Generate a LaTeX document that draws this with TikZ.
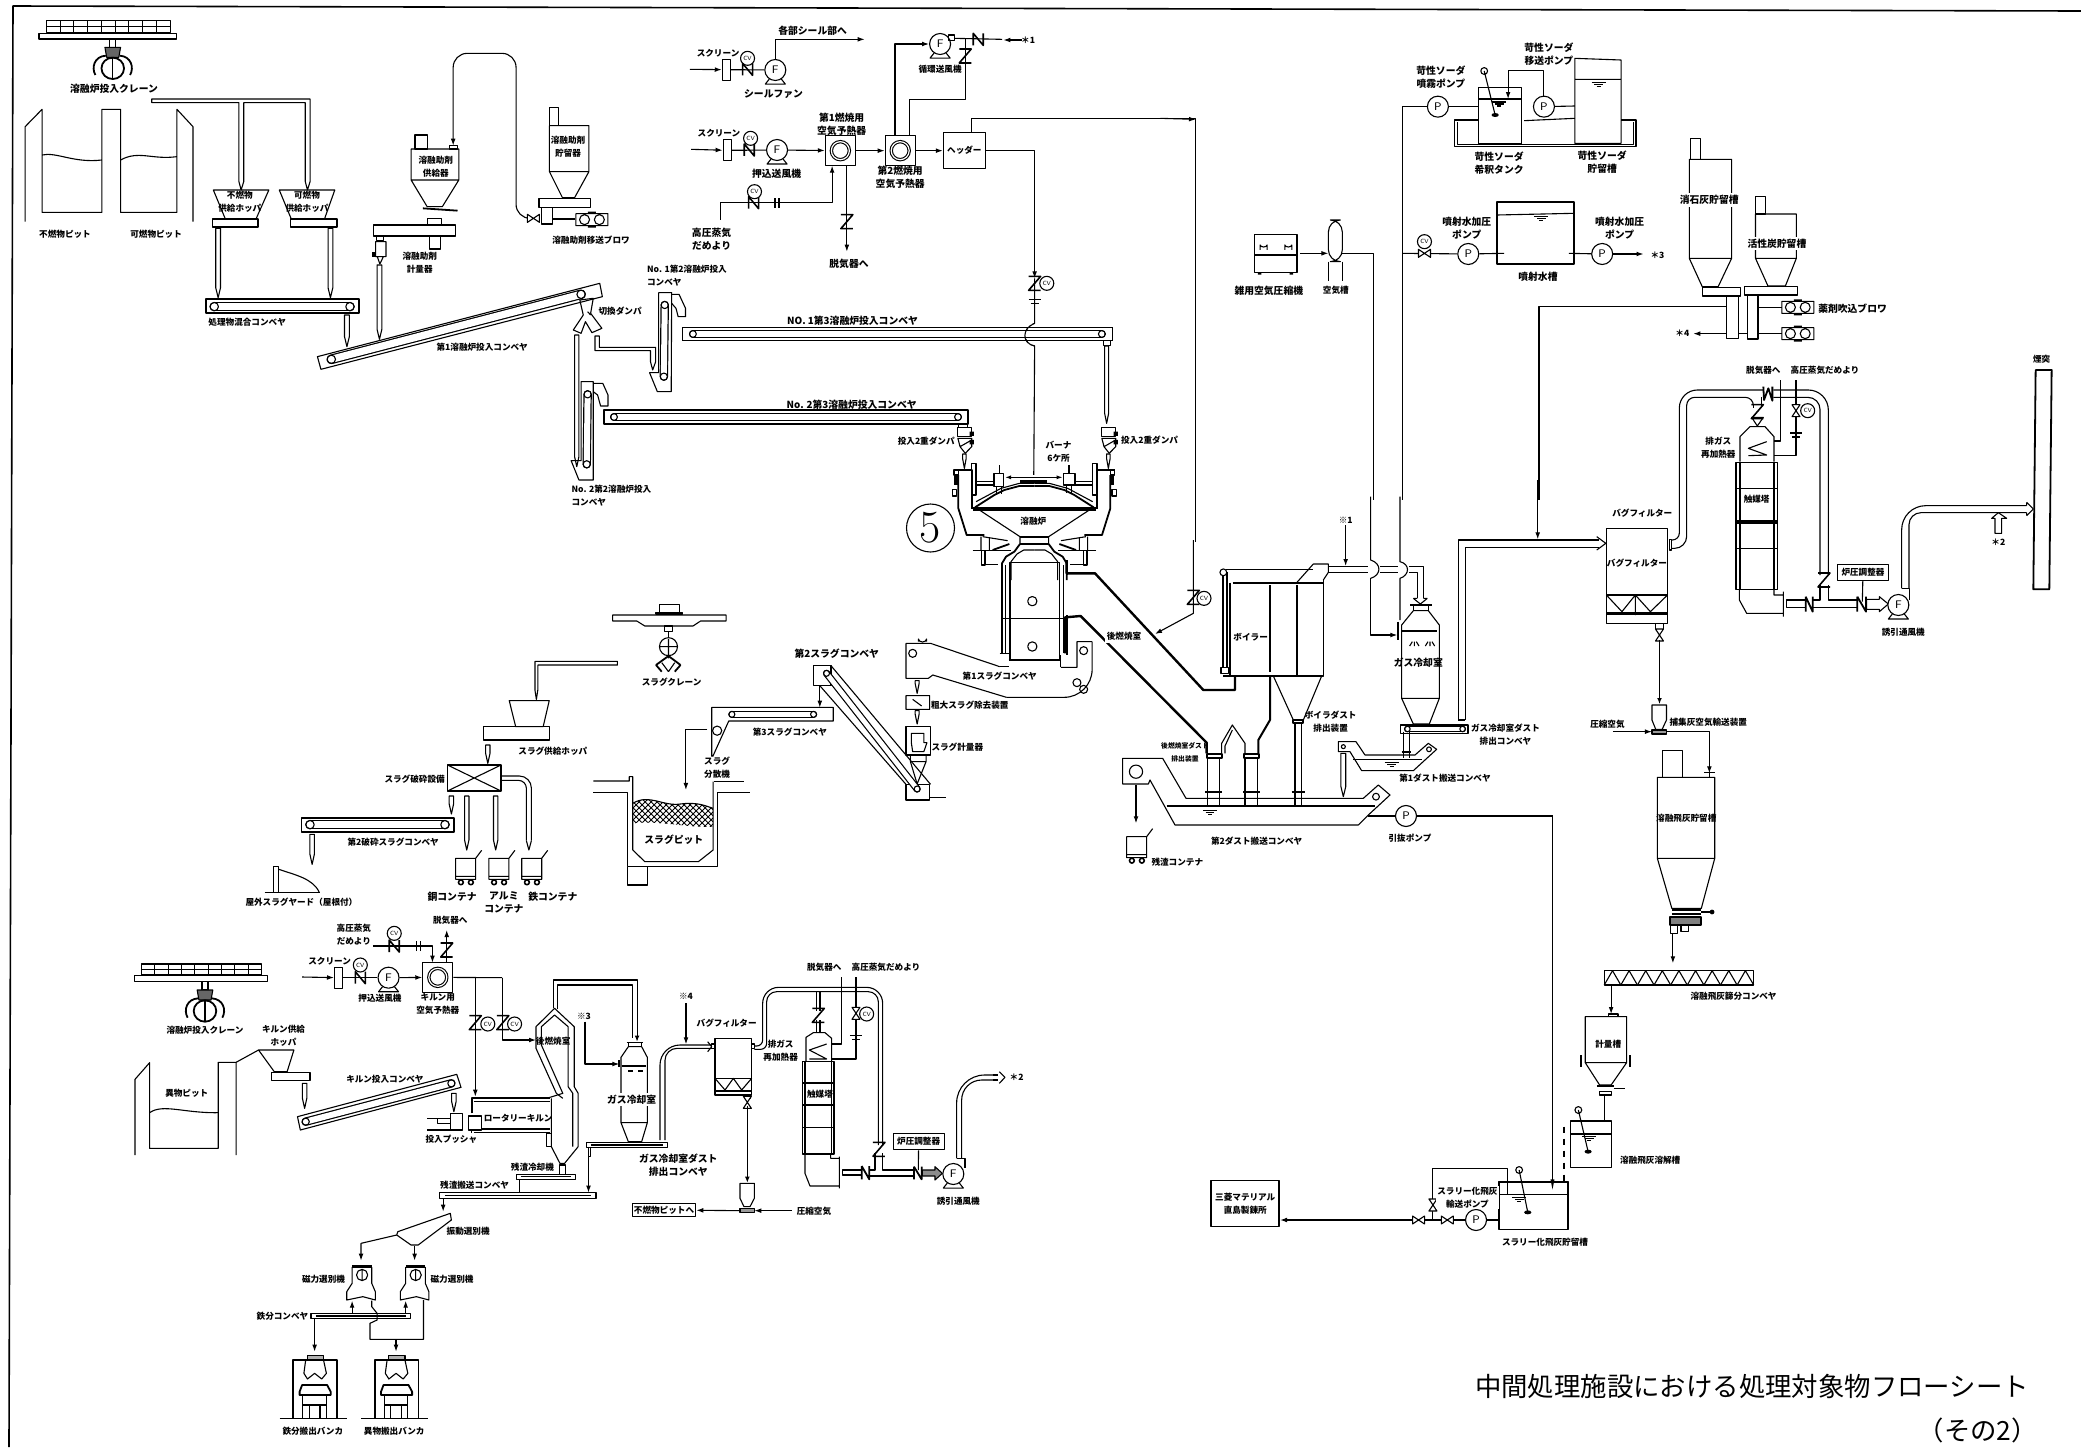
\documentclass[tikz,border=0pt]{standalone}
\usepackage{fontspec}
\newfontfamily\cjk{Noto Sans CJK JP}
\usetikzlibrary{arrows.meta,calc,patterns}
\tikzset{
  crop/.style n args={4}{shift={(#1*.5pt,-#2*.5pt)},x={.5pt/#3},y={-.5pt/#4}},
  lbl/.style={font=\cjk\bfseries\fontsize{4.3}{6.5}\selectfont,align=center,inner sep=0pt},
  lbw/.style={font=\cjk\bfseries\fontsize{4.9}{6.5}\selectfont,align=center,inner sep=0pt},
  pmp/.style={circle,draw,fill=white,inner sep=0pt,minimum size=10.5pt,font=\sffamily\fontsize{5.5}{6}\selectfont},
  ctl/.style={circle,draw,fill=white,inner sep=0pt,minimum size=7pt,font=\sffamily\fontsize{3}{3}\selectfont},
  hxb/.style={rectangle,draw,inner sep=0pt,minimum width=15pt,minimum height=15pt},
  scrn/.style={rectangle,draw,inner sep=0pt,minimum width=4pt,minimum height=10.5pt},
  ring/.style={circle,draw,double,inner sep=0pt,minimum size=9pt},
  thk/.style={line width=.9pt},
  flow/.style={-{Latex[length=3.5pt,width=2.4pt]}},
  grab/.pic={
    \begin{scope}[x=.2168pt,y=-.1667pt]
      \draw (-7,0) rectangle (7,25);
      \draw[fill=black!60] (-18,25)--(18,25)--(14,55)--(-14,55)--cycle;
      \draw[line width=.9pt] (0,88) ellipse [x radius=26,y radius=32];
      \draw (0,56)--(0,120);
      \foreach \s in {1,-1} {\draw[line width=.9pt] (\s*16,50) .. controls (\s*42,52) and (\s*50,85) .. (\s*40,108);}
    \end{scope}}
}
\newcommand\drp[4][1.2pt]{\draw[fill=white] ($(#2,#3)+(-#1,0pt)$) -- ($(#2,#4)+(-#1,5pt)$) -- (#2,#4) -- ($(#2,#4)+(#1,5pt)$) -- ($(#2,#3)+(#1,0pt)$) -- cycle;}
\newcommand\belt[3][2.1pt]{
  \draw[line width=2*#1+.6pt,line cap=round] (#2)--(#3);
  \draw[white,line width=2*#1-.6pt,line cap=round] (#2)--(#3);
  \draw (#2) circle[radius=#1] (#3) circle[radius=#1];}
\newcommand\gv[1]{\draw[fill=white] (#1) +(-3pt,2pt) -- +(3pt,-2pt) -- +(3pt,2pt) -- +(-3pt,-2pt) -- cycle;}
\newcommand\gvv[1]{\draw[fill=white] (#1) +(-2pt,3pt) -- +(2pt,3pt) -- +(-2pt,-3pt) -- +(2pt,-3pt) -- cycle;}
\newcommand\nchk[1]{\draw[line width=.8pt] (#1) +(-2.5pt,-3pt) -- +(-2.5pt,3pt) -- +(2.5pt,-3pt) -- +(2.5pt,3pt);}
\newcommand\zdm[1]{\draw[line width=.8pt] (#1) +(-3pt,3.5pt) -- +(3pt,3.5pt) -- +(-3pt,-3.5pt) -- +(3pt,-3.5pt);}
\newcommand\orf[1]{\draw[fill=white] (#1) +(-1pt,-2.5pt) -- +(-1pt,2.5pt) +(1pt,-2.5pt) -- +(1pt,2.5pt);}
\newcommand\orfv[1]{\draw (#1) +(-3pt,1pt) -- +(3pt,1pt) +(-2pt,-1pt) -- +(2pt,-1pt);}
\newcommand\wmk[1]{\draw (#1) +(-3.5pt,0pt) -- +(3.5pt,0pt) +(-2.2pt,-1pt) -- +(2.2pt,-1pt) +(-1pt,-2pt) -- +(1pt,-2pt);}
\newcommand\agit[2]{\draw (#1) circle[radius=1.7pt] -- (#2); \fill (#2) ellipse[x radius=1.8pt,y radius=1pt];}
\newcommand\cont[1]{\draw (#1) rectangle +(10pt,-10.5pt) (#1) +(0pt,-9pt) -- +(10pt,-9pt) (#1) +(10pt,0pt) -- +(13pt,4pt);
  \draw[line width=.8pt] (#1) +(2.6pt,-12pt) circle[radius=1.2pt] +(7.6pt,-12pt) circle[radius=1.2pt];}
\newcommand\blw[1]{\draw (#1) +(-8pt,-3pt) rectangle +(8pt,3pt) +(-3.7pt,0pt) circle[radius=2.5pt] +(3.7pt,0pt) circle[radius=2.5pt];
  \fill (#1) +(-2pt,3pt) rectangle +(2pt,4pt) +(-2pt,-3pt) rectangle +(2pt,-4pt);}
\newcommand\fanb[1]{\draw (#1.south) ++(-3pt,1pt) -- ++(-2pt,-2.5pt) -- ++(10pt,0pt) -- ++(-2pt,2.5pt);}
\begin{document}
\begin{tikzpicture}[x=.5pt,y=-.5pt,line width=.55pt,line join=round]
  \useasboundingbox (0,0) rectangle (2081,1447);
  \draw[line width=.8pt] (9,1447) -- (13,6) -- (2081,11);

  % top left: pits, hoppers, first conveyor
  \begin{scope}[crop={0}{0}{2.306}{3}]
    \foreach \i in {0,...,8} {\draw (107+\i*31.7,62) rectangle ++(31.7,17.5) ++(-31.7,0) rectangle ++(31.7,17.5);}
    \draw (90,100) rectangle (407,117);
    \pic at (260,117) {grab};
    \node[lbw] (craneA) at (263,265) {溶融炉投入クレーン};
    \draw (58,665)--(58,380)--(97,328)--(97,637)--(235,637)--(235,328)--(278,328)--(278,637)--(408,637)--(408,328)--(445,380)--(445,665);
    \draw (97,465) .. controls (130,455) and (170,490) .. (235,480);
    \draw (278,480) .. controls (320,450) and (350,480) .. (408,470);
    \node[lbl] (pitA) at (150,703) {不燃物ピット};
    \node[lbl] (pitB) at (360,703) {可燃物ピット};
    \draw (350,297)--(715,297)--(715,545)--(709,570)--(704,545)--(704,308)--(562,308)--(562,545)--(556,570)--(551,545)--(551,308)--(350,308)--cycle;
    \draw (492,570)--(620,570)--(590,658)--(520,658)--cycle;
    \draw (644,570)--(772,570)--(748,658)--(672,658)--cycle;
    \draw[thk] (490,658) rectangle (595,680) (670,658) rectangle (777,680);
    \node[lbl] (hopA) at (553,604) {不燃物\\供給ホッパ};
    \node[lbl] (hopB) at (708,604) {可燃物\\供給ホッパ};
    \drp{503}{685}{893}
    \drp{762}{685}{893}
    \draw[thk] (475,898) rectangle (827,940);
    \belt{494,920}{807,920}
    \node[lbl] (convMix) at (570,968) {処理物混合コンベヤ};
    \drp{800}{945}{1040}
    \draw (732,1070)--(1383,850)--(1389,890)--(740,1108)--cycle;
    \belt{764,1078}{1340,883}
    \node[lbl] (convA) at (1112,1043) {第1溶融炉投入コンベヤ};
    % flux feeder
    \draw (957,405) rectangle (985,447);
    \draw (1037,437) rectangle (1055,447);
    \draw (948,447)--(1058,447)--(1058,540)--(1020,620)--(985,620)--(948,540)--cycle (948,540)--(1058,540);
    \draw[thk] (975,625)--(1055,632);
    \draw (985,655) rectangle (1018,675);
    \draw (862,675) rectangle (1050,708);
    \draw (990,708) rectangle (1015,747);
    \draw (868,708) rectangle (885,722);
    \draw (866,725) rectangle (890,770) (870,770) -- (876,792) -- (884,770);
    \fill (858,755) rectangle (866,772);
    \drp{875}{795}{1018}
    \node[lbl] (feedF) at (1005,500) {溶融助剤\\供給器};
    \node[lbl] (weighF) at (968,787) {溶融助剤\\計量器};
    \coordinate (flxT) at (1045,437);
    \coordinate (flxV) at (1222,655);
    \draw[flow,rounded corners=7pt] (flxV) -| (1190,160) -| (flxT);
    \gv{1230,655}
    \draw (1267,323) rectangle (1287,377);
    \draw (1267,377)--(1358,377)--(1358,515)--(1325,593)--(1297,593)--(1267,515)--cycle (1267,515)--(1358,515);
    \draw (1243,595) rectangle (1362,622);
    \draw (1248,622) rectangle (1275,672);
    \blw{1365,659}
    \draw (1275,657)--(1327,657);
    \node[lbl] (storF) at (1310,440) {溶融助剤\\貯留器};
    \node[lbl] (blwF) at (1363,722) {溶融助剤移送ブロワ};
    % switching damper
    \draw (1337,900)--(1368,895)--(1362,940)--(1388,985)--(1365,998)--(1350,965)--(1340,1000)--(1322,990)--(1345,945)--cycle;
    \draw (1355,935)--(1362,945);
    \node[lbl] (dampS) at (1430,935) {切換ダンパ};
    \draw (1325,1005)--(1325,1370)--(1330,1400)--(1335,1370)--(1335,1005)--cycle;
    \draw (1372,1008)--(1372,1052)--(1500,1052)--(1500,1085)--(1505,1110)--(1512,1085)--(1512,1042)--(1382,1042)--(1382,1008)--cycle;
    \draw (1340,1145)--(1368,1145)--(1368,1440)--(1335,1440)--(1317,1382)--(1340,1382)--cycle;
    \belt[1.8pt]{1355,1183}{1353,1393}
    \draw (1368,1150)--(1390,1150)--(1402,1185)--(1402,1218)--(1385,1218)--(1378,1185)--(1368,1175);
  \end{scope}
  \node[lbl,anchor=west,align=left] (convN2) at (571,495.5) {No. 2第2溶融炉投入\\コンベヤ};
  \draw (604,410) rectangle (968,424);
  \belt[1.7pt]{614,417}{958,417}

  % top middle: fans, preheaters, header
  \begin{scope}[crop={640}{0}{2.306}{3}]
    \node[scrn] (scrA) at (199,209) {};
    \node[ctl] (cvA) at (248,175) {CV};
    \node[pmp] (fanA) at (312,210) {F};
    \fanb{fanA}
    \coordinate (inA) at (115,208);
    \coordinate (outA) at (518,118);
    \draw[flow] (inA) -- (scrA);
    \draw (scrA) -- (fanA);
    \nchk{248,208}
    \draw[flow] (fanA) |- (outA);
    \node[lbw] (lbSeal) at (398,92) {各部シール部へ};
    \node[lbl] (lbScrA) at (180,160) {スクリーン};
    \node[lbw] (lbFanA) at (308,283) {シールファン};

    \node[scrn] (scrB) at (201,451) {};
    \node[ctl] (cvB) at (255,415) {CV};
    \node[pmp] (fanB) at (316,450) {F};
    \fanb{fanB}
    \node[hxb] (hxA) at (462,452) {};
    \node[ring] at (hxA) {};
    \node[hxb] (hxB) at (600,452) {};
    \node[ring] at (hxB) {};
    \node[rectangle,draw,inner sep=0pt,minimum width=21pt,minimum height=18pt] (hdr) at (748,452) {};
    \node[lbl] at (hdr) {ヘッダー};
    \coordinate (inB) at (118,448);
    \draw[flow] (inB) -- (scrB);
    \draw (scrB) -- (fanB);
    \nchk{252,450}
    \draw[flow] (fanB) -- (hxA);
    \draw[flow] (hxA) -- (hxB);
    \draw[flow] (hxB) -- (hdr);
    \node[lbl] (lbScrB) at (182,400) {スクリーン};
    \node[lbw] (lbFanB) at (315,520) {押込送風機};
    \node[lbw] (lbHxA) at (465,372) {第1燃焼用\\空気予熱器};
    \node[lbw] (lbHxB) at (600,532) {第2燃焼用\\空気予熱器};

    \node[pmp] (fanC) at (692,132) {F};
    \fanb{fanC}
    \draw (712,105) rectangle (726,122);
    \draw[flow] (588,406) |- (fanC);
    \draw (726,115) -- (835,118);
    \nchk{780,118}
    \draw[flow] (880,120) -- (838,120);
    \node[lbl] (lbS1) at (895,120) {＊1};
    \draw (750,115) -- (750,298) -| (622,406);
    \zdm{750,168}
    \node[lbl] (lbFanC) at (692,208) {循環送風機};

    \coordinate (stmA) at (185,660);
    \draw[flow] (stmA) |- (443,608) -- (443,497);
    \nchk{262,608}
    \node[ctl] (cvC) at (264,575) {CV};
    \orf{316,608}
    \node[lbw] (lbStmA) at (165,718) {高圧蒸気\\だめより};
    \draw[flow] (477,497) -- (477,755);
    \zdm{477,665}
    \node[lbw] (lbDea) at (482,792) {脱気器へ};

    \draw[flow] (797,452) -- (910,452) -- (910,835);
    \draw (910,835) -- (910,970) .. controls (880,985) and (880,1030) .. (910,1038) -- (908,1425);
    \zdm{910,850}
    \node[ctl] (cvD) at (938,850) {CV};
    \orfv{910,905}
    \draw (765,397) -- (765,355) -- (1280,355) -- (1280,1625);
    \draw[flow] (1200,355) -- (1282,358);

    % compressor
    \draw (1416,703) rectangle (1515,818) (1416,765) -- (1515,765);
    \draw (1430,750) -- (1430,735) arc (180:0:8 and 6) -- (1446,750) (1487,750) -- (1487,735) arc (180:0:8 and 6) -- (1503,750);
    \fill (1425,818) rectangle (1433,824) (1498,818) rectangle (1506,824);
    \node[lbw] (lbComp) at (1450,873) {雑用空気圧縮機};

    \draw (97,982) rectangle (1090,1022);
    \belt[1.7pt]{122,1002}{1065,1002}
    \draw[fill=white,draw=white] (895,975) rectangle (925,1032);
    \draw (97,982) -- (1090,982) (97,1022) -- (1090,1022) (135,992) -- (1065,992) (135,1012) -- (1065,1012);
    \draw (910,970) .. controls (880,985) and (880,1030) .. (910,1038);
    \draw (1068,1022) rectangle (1085,1036);
    \drp[1pt]{1076}{1038}{1270}
    \node[lbw] (lbNoA) at (490,963) {NO. 1第3溶融炉投入コンベヤ};
    \node[lbw] (lbNoB) at (488,1215) {No. 2第3溶融炉投入コンベヤ};
    \node[lbl,anchor=west,align=left] (lbNoC) at (15,828) {No. 1第2溶融炉投入\\コンベヤ};
    \foreach \dx in {0,332} {
      \begin{scope}[shift={(\dx,0)}]
        \draw (733,1282) rectangle (765,1310);
        \draw (733,1315)--(765,1315)--(765,1340)--(750,1360)--(738,1340)--cycle (738,1340)--(765,1320);
        \fill (760,1295) rectangle (770,1308) (760,1320) rectangle (770,1333);
        \drp[.9pt]{748}{1362}{1405}
      \end{scope}}
    \draw (735,1272) rectangle (755,1282);
    \node[lbl] (lbDpA) at (660,1325) {投入2重ダンパ};
    \node[lbl] (lbDpB) at (1175,1320) {投入2重ダンパ};
    \node[lbl] (lbBur) at (965,1355) {バーナ\\6ケ所};
    % No.1 second conveyor
    \draw (43,878)--(73,878)--(72,1175)--(40,1175)--(22,1118)--(43,1118)--cycle;
    \belt[1.8pt]{57,915}{55,1130}
    \draw (73,883)--(90,883)--(105,925)--(105,950)--(88,950)--(83,925)--(73,910);
  \end{scope}

  % top right: soda tanks, silos
  \begin{scope}[crop={1300}{0}{2.008}{3}]
    \node[pmp] (pmpA) at (277,320) {P};
    \node[pmp] (pmpB) at (490,320) {P};
    \draw (205,1500) -- (205,320) -- (pmpA) -- (358,320);
    \draw (358,262) rectangle (445,432) (358,297) -- (445,297);
    \wmk{400,306}
    \agit{370,213}{392,345}
    \draw[flow] (pmpB) |- (418,212) -- (418,297);
    \draw (pmpB) -- (552,318);
    \draw (450,362) -- (552,355);
    \draw (552,175) -- (645,180) -- (645,430) -- (552,430) -- cycle (552,238) -- (645,238);
    \wmk{600,248}
    \draw (358,360) -- (310,360) -- (310,440) -- (675,440) -- (675,360) -- (645,360);
    \draw (316,366) -- (316,433) -- (669,433) -- (669,366);
    \node[lbw] (lbSoA) at (283,232) {苛性ソーダ\\噴霧ポンプ};
    \node[lbw] (lbSoB) at (500,162) {苛性ソーダ\\移送ポンプ};
    \node[lbw] (lbSoC) at (400,490) {苛性ソーダ\\希釈タンク};
    \node[lbw] (lbSoD) at (607,487) {苛性ソーダ\\貯留槽};

    % injection water
    \node[pmp] (pmpC) at (338,762) {P};
    \node[pmp] (pmpD) at (607,762) {P};
    \coordinate (outD) at (690,762);
    \draw (205,760) -- (pmpC) -- (410,760);
    \gv{250,760}
    \node[ctl] (cvE) at (250,725) {CV};
    \draw[thk] (396,605) rectangle (550,792);
    \draw (396,645) -- (550,640);
    \wmk{485,650}
    \draw (540,760) -- (pmpD);
    \draw[flow] (pmpD) -- (outD);
    \node[lbl] (lbS3) at (718,765) {＊3};
    \node[lbw] (lbPmC) at (335,683) {噴射水加圧\\ポンプ};
    \node[lbw] (lbPmD) at (642,683) {噴射水加圧\\ポンプ};
    \node[lbw] (lbWat) at (478,830) {噴射水槽};

    % air tank
    \draw[fill=white,rounded corners=6pt] (57,660) rectangle (85,785);
    \draw (57,785) -- (57,842) (85,785) -- (85,842);
    \draw[flow] (0,760) -- (57,760);
    \draw (85,760) -- (147,760) -- (147,1500);
    \node[lbl] (lbTnk) at (72,872) {空気槽};

    % silos
    \draw (785,415) rectangle (805,478);
    \draw (782,478) -- (867,478) -- (867,775) -- (840,860) -- (808,860) -- (782,775) -- cycle (782,775) -- (867,775);
    \draw (808,862) rectangle (885,888);
    \draw (857,888) rectangle (880,1015);
    \node[lbw,fill=white,inner sep=1pt] (lbSiA) at (822,600) {消石灰貯留槽};
    \draw (915,590) rectangle (935,642);
    \draw (915,642) -- (997,642) -- (997,775) -- (975,858) -- (940,858) -- (915,775) -- cycle (915,775) -- (997,775);
    \draw (893,860) rectangle (1000,885);
    \draw (898,885) rectangle (920,1017);
    \node[lbw,fill=white,inner sep=1pt] (lbSiB) at (958,730) {活性炭貯留槽};
    \blw{1000,922}
    \blw{1000,1001}
    \draw (920,922) -- (968,922) (920,1001) -- (968,1001) (880,1001) -- (898,1001);
    \draw[flow] (857,1001) -- (790,1001);
    \node[lbl] (lbS4) at (768,1000) {＊4};
    \node[lbw] (lbBlw) at (1110,925) {薬剤吹込ブロワ};
    \draw (857,920) -- (480,920) -- (480,1500);
  \end{scope}

  % furnace, mirrored about its axis
  \begin{scope}[crop={920}{420}{3}{3}]
    \foreach \s in {1,-1} {
      \begin{scope}[shift={(343,0)},xscale=\s]
        \draw (-188,130) rectangle (-175,225);
        \draw[thk] (-241,150) -- (-188,150) -- (-188,268);
        \draw (-241,150) rectangle (-228,165);
        \fill (-240,165) rectangle (-228,195);
        \draw (-246,208) rectangle (-233,228);
        \draw[thk] (-228,165) -- (-228,265) -- (-203,345) -- (-150,345);
        \draw (-175,185) -- (-120,185) (-175,195) -- (-120,195);
        \draw[thk] (-178,262) -- (-120,225) -- (-90,210) -- (-45,198) -- (0,198);
        \draw (-175,245) -- (-100,205) -- (-45,190) -- (0,190);
        \draw (-168,268) -- (-43,350) -- (-43,372);
        \draw[thk] (-43,350) -- (0,350) (-43,372) -- (0,372);
        \draw (-155,350) -- (-80,362) (-160,350) -- (-160,390) (-135,355) -- (-135,390);
        \draw[thk] (-125,390) -- (-75,372);
        \draw (-158,392) rectangle (-148,435);
        \draw (-185,392) -- (-70,392) (-160,433) -- (-108,433);
        \draw[thk] (-43,372) -- (-60,395) -- (-85,410) -- (-97,430) -- (-97,480);
        \draw (-32,390) -- (0,390) (-32,390) -- (-52,402) -- (-70,425) -- (-70,480);
      \end{scope}}
    \draw[thk] (160,265) -- (527,265);
    \draw (158,270) -- (527,270);
    \draw (222,160) rectangle (250,200) (238,135) -- (238,160) (230,200) -- (230,225) (245,200) -- (245,222);
    \draw (430,160) rectangle (465,195) (440,195) -- (440,220) (455,195) -- (455,220);
    \fill (444,135) rectangle (450,160);
    \draw[{Latex[length=3pt,width=2pt]}-{Latex[length=3pt,width=2pt]}] (255,172) -- (428,172);
    \fill (300,180) rectangle (380,190);
    \node[lbl] (lbFur) at (340,305) {溶融炉};
  \end{scope}
  \node[circle,draw,inner sep=0pt,minimum size=24pt,font=\rmfamily\fontsize{23}{23}\selectfont] (numF) at (930.5,528) {5};

  % slag line
  \begin{scope}[crop={560}{440}{2.24}{3}]
    \draw (1008,368) rectangle (1118,660);
    \draw[thk] (990,375) -- (990,640) (1135,375) -- (1135,405) (1135,525) -- (1135,645);
    \draw (998,375) -- (998,640) (1127,375) -- (1127,640);
    \draw (985,640) -- (1005,640) (990,535) -- (1135,535);
    \draw (1005,660) -- (1122,660);
    \draw[rounded corners=2pt] (1048,470) rectangle (1068,497) (1048,606) rectangle (1068,633);
    \draw (775,610) -- (830,610) -- (985,680) (1122,682) -- (1158,682) -- (1158,605) -- (1192,605);
    \draw[rounded corners=14pt] (1192,605) -- (1192,772) -- (1000,772);
    \draw (1000,772) -- (835,705) -- (825,715) -- (775,715) -- (775,610);
    \draw (1122,645) -- (1122,682);
    \draw (985,680) -- (1005,680);
    \draw (790,640) circle[radius=2pt] (1173,632) circle[radius=2pt] (1158,728) circle[radius=2pt] (1173,748) circle[radius=2pt];
    \draw (803,605) -- (803,597) arc (180:0:9 and 9) -- (821,605);
    \node[lbl] (lbSlgA) at (985,708) {第1スラグコンベヤ};
    \drp[1pt]{800}{722}{760}
    \draw (775,767) rectangle (828,808) (790,778) -- (810,798);
    \node[lbl] (lbSlgB) at (918,795) {粗大スラグ除去装置};
    \drp[1pt]{800}{812}{852}
    \draw (775,860) rectangle (830,945);
    \draw (787,880) -- (815,880) -- (815,908) -- (822,908) -- (815,935) -- (790,935) -- (787,908) -- cycle;
    \node[lbl] (lbSlgC) at (890,920) {スラグ計量器};
    \draw (785,945) -- (785,965) -- (800,1032) -- (820,965) -- (820,945) (785,965) -- (820,965);
    \draw (775,1033) rectangle (828,1080) (828,1072) -- (865,1072);
    \draw (567,677) rectangle (607,737);
    \draw (607,677) -- (830,1033) (582,737) -- (775,1033);
    \belt[1.5pt]{597,700}{800,1047}
    \node[lbw] (lbSlgD) at (620,642) {第2スラグコンベヤ};
    \draw[flow] (582,737) -- (582,803);
    \draw (340,950) -- (340,802) -- (612,802) -- (612,843) -- (378,843) -- (342,950);
    \belt[1.5pt]{385,823}{568,823}
    \draw (352,872) circle[radius=2.3pt];
    \node[lbl] (lbSlgE) at (515,875) {第3スラグコンベヤ};
    \draw[flow] (330,868) -- (282,868) -- (282,1050);
    \node[lbl] (lbSlgF) at (352,982) {スラグ\\分散機};
    \draw (345,1025) -- (412,1025);
    \fill[white] (163,1085) rectangle (343,1160);
    \path[pattern=crosshatch] (163,1090) .. controls (200,1060) and (230,1100) .. (270,1092) .. controls (310,1085) and (330,1100) .. (343,1105) -- (343,1160) .. controls (290,1165) and (220,1140) .. (163,1150) -- cycle;
    \draw (163,1090) .. controls (200,1060) and (230,1100) .. (270,1092) .. controls (310,1085) and (330,1100) .. (343,1105);
    \draw (75,1023) -- (155,1023) -- (155,1010) -- (163,1010) -- (163,1230) -- (190,1265) -- (310,1265) -- (343,1230) -- (343,1025);
    \draw (75,1058) -- (152,1058) -- (152,1280) -- (352,1280) -- (352,1058) -- (425,1058);
    \draw (152,1280) -- (152,1335) -- (195,1335) -- (195,1280);
    \node[lbw] (lbPit) at (255,1200) {スラグピット};
    % slag crane
    \draw (118,525) -- (372,525) -- (372,543) -- (315,543) -- (298,558) -- (190,558) -- (172,543) -- (118,543) -- cycle;
    \draw (222,493) rectangle (268,518) (215,518) rectangle (275,522);
    \draw (235,558) rectangle (252,575) (243,575) -- (243,590);
    \draw (243,620) circle[radius=4.5pt] (225,620) -- (261,620) (243,597) -- (243,655);
    \draw[thk] (215,675) -- (243,648) -- (270,675) (228,695) -- (215,675) (257,695) -- (270,675);
    \draw (228,668) -- (243,695) (257,668) -- (243,695);
    \node[lbl] (lbCrnS) at (250,727) {スラグクレーン};
  \end{scope}

  % slag crushing
  \begin{scope}[crop={220}{600}{2.8}{3}]
    \draw (1113,184) -- (882,184) -- (882,270) -- (886,298) -- (890,270) -- (890,195) -- (1113,195) -- cycle;
    \draw (810,302) -- (922,302) -- (905,380) -- (828,380) -- cycle;
    \draw (737,380) rectangle (923,420);
    \node[lbl] (lbSlgH) at (932,453) {スラグ供給ホッパ};
    \drp[1.1pt]{750}{435}{490}
    \draw[thk] (637,495) rectangle (787,573);
    \draw (637,495) -- (787,573) (637,573) -- (787,495);
    \node[lbl] (lbCrsh) at (545,537) {スラグ破砕設備};
    \draw[rounded corners=6pt] (787,528) -- (872,528) -- (872,722);
    \draw[rounded corners=4pt] (787,541) -- (858,541) -- (858,722);
    \draw (858,722) -- (865,750) -- (872,722);
    \drp[1.1pt]{648}{588}{642}
    \drp[1.1pt]{691}{588}{750}
    \drp[1.1pt]{772}{588}{750}
    \draw[thk] (228,653) rectangle (655,695);
    \belt{252,674}{630,674}
    \node[lbl] (lbCnv) at (485,725) {第2破砕スラグコンベヤ};
    \drp[1.1pt]{258}{703}{793}
    \draw (125,877) -- (280,877) (150,877) -- (150,800) -- (165,800) -- (165,877);
    \draw (165,808) .. controls (210,825) and (260,835) .. (278,877);
    \node[lbl] (lbYrd) at (228,907) {屋外スラグヤード（屋根付）};
    \cont{660,775}
    \cont{753,775}
    \cont{845,775}
    \node[lbw] (lbCnA) at (650,890) {銅コンテナ};
    \node[lbw] (lbCnB) at (795,907) {アルミ\\コンテナ};
    \node[lbw] (lbCnC) at (932,890) {鉄コンテナ};
  \end{scope}

  % kiln line
  \begin{scope}[crop={120}{930}{2.8}{3}]
    \foreach \i in {0,...,8} {\draw (60+\i*37.4,102) rectangle ++(37.4,16.5) ++(-37.4,0) rectangle ++(37.4,16.5);}
    \draw (40,137) rectangle (413,155);
    \pic at (238,155) {grab};
    \node[lbl] (craneB) at (238,302) {溶融炉投入クレーン};
    \draw (42,675) -- (42,448) -- (83,398) -- (83,655) -- (275,655) -- (275,397) -- (325,397) -- (325,675);
    \draw (83,548) .. controls (120,520) and (180,550) .. (275,548);
    \node[lbl] (lbPitC) at (187,490) {異物ピット};
    \draw (325,397) -- (388,360);
    \draw (388,360) -- (487,360) -- (468,425) -- (432,425) -- cycle;
    \draw (423,427) rectangle (532,452);
    \node[lbl] (lbHopK) at (458,318) {キルン供給\\ホッパ};
    \drp[1.1pt]{517}{460}{535}
    \draw (497,560) -- (943,433) -- (955,472) -- (505,600) -- cycle;
    \belt[1.8pt]{520,575}{928,460}
    \node[lbl] (lbCnvK) at (742,448) {キルン投入コンベヤ};
    \drp[1.1pt]{935}{490}{545}
    \draw (925,550) rectangle (960,600) (860,565) -- (925,565) (860,600) -- (945,600);
    \draw (890,565) rectangle (925,580);
    \node[lbl] (lbPsh) at (928,628) {投入プッシャ};
    \draw[thk] (985,550) -- (985,505) -- (1205,505) (985,598) -- (1205,598);
    \draw (990,515) -- (1205,515) (990,608) -- (1205,608) (985,598) -- (985,608);
    \draw[fill=white] (975,558) rectangle (1012,600);
    \node[lbl] (lbKln) at (1115,565) {ロータリーキルン};
    \node[scrn] (scrK) at (612,143) {};
    \node[ctl] (cvK) at (673,105) {CV};
    \node[pmp] (fanK) at (752,143) {F};
    \fanb{fanK}
    \node[hxb] (hxK) at (890,142) {};
    \node[ring] at (hxK) {};
    \coordinate (inK) at (510,141);
    \draw[flow] (inK) -- (scrK);
    \draw (scrK) -- (fanK);
    \nchk{673,143}
    \draw[flow] (fanK) -- (hxK);
    \draw (hxK) -- (1070,143);
    \draw[flow] (995,143) -- (995,500);
    \draw[flow] (1070,143) |- (1165,330);
    \zdm{995,278}
    \zdm{1072,278}
    \node[ctl] (cvL) at (1030,282) {CV};
    \node[ctl] (cvM) at (1105,282) {CV};
    \node[lbl] (lbScrK) at (587,93) {スクリーン};
    \node[lbl] (lbFanK) at (728,205) {押込送風機};
    \node[lbl] (lbHxK) at (890,222) {キルン用\\空気予熱器};
    \draw[flow] (708,48) -- (875,48) -- (875,98);
    \nchk{768,48}
    \node[ctl] (cvN) at (768,10) {CV};
    \orf{835,48}
    \draw[flow] (915,98) -- (915,0);
    \zdm{915,60}
    \node[lbl] (lbStmK) at (655,15) {高圧蒸気\\だめより};
    \node[lbl] (lbDeaK) at (925,-30) {脱気器へ};
    % afterburner
    \draw (1240,505) -- (1222,490) -- (1165,355) -- (1165,290) -- (1217,235) -- (1272,290) -- (1272,470) -- (1283,490) -- (1283,650) -- (1245,700) -- (1232,700) -- (1208,650) -- (1208,505);
    \draw (1195,505) -- (1240,490) -- (1180,345) -- (1180,290) -- (1217,255) -- (1255,290) -- (1255,470) -- (1268,490) -- (1268,650);
    \draw (1195,610) rectangle (1208,650);
    \node[lbl] (lbAbK) at (1213,333) {後燃焼室};
    \draw[-{Latex[length=3pt,width=2.4pt]}] (1213,235) -- (1213,150) -- (1448,150) -- (1448,335);
    \draw (1225,238) -- (1225,165) -- (1436,165) -- (1436,325);
    \node[lbl] (lbCoolK) at (1155,710) {残渣冷却機};
    \draw (1232,705) rectangle (1248,733);
    \draw (1110,733) rectangle (1275,748) (1122,740.5) -- (1263,740.5);
    \node[lbl] (lbCnvR) at (993,765) {残渣搬送コンベヤ};
    \draw (1120,748) -- (1120,788);
    \draw (895,788) rectangle (1333,805);
    \draw[thk] (910,796.5) -- (1318,796.5);
    \draw[flow] (1312,670) -- (1312,788);
    \draw[flow] (905,805) -- (905,845);
    \draw (925,850) -- (928,870) -- (835,945) -- (815,945) -- (775,915) -- (778,905) -- cycle;
    \node[lbl] (lbSort) at (975,903) {振動選別機};
    \draw[flow] (825,948) -- (825,992);
    \draw[flow] (775,915) -- (675,940) -- (675,992);
    \foreach \dx in {0,150} {
      \begin{scope}[shift={(\dx,0)}]
        \draw (650,1012) -- (705,1012) -- (705,1060) -- (715,1085) -- (715,1110) -- (680,1100) -- (635,1110) -- (635,1085) -- (650,1060) -- cycle;
        \draw (678,1035) circle[radius=2.8pt] (678,1018) -- (678,1052);
        \fill (650,1005) rectangle (705,1010);
      \end{scope}}
    \node[lbl] (lbMagA) at (570,1048) {磁力選別機};
    \node[lbl] (lbMagB) at (930,1048) {磁力選別機};
    \draw[flow] (650,1150) -- (650,1112);
    \draw[flow] (800,1150) -- (800,1112);
    \draw (705,1112) -- (705,1130) -- (720,1150) -- (720,1170) -- (700,1180) -- (700,1228) -- (850,1228) -- (850,1110);
    \draw (535,1150) rectangle (813,1165);
    \draw[thk] (548,1157.5) -- (800,1157.5);
    \node[lbl] (lbCnvF) at (455,1158) {鉄分コンベヤ};
    \draw[flow] (545,1165) -- (545,1265);
    \draw[flow] (773,1230) -- (773,1265);
    \foreach \dx in {0,228} {
      \begin{scope}[shift={(\dx,0)}]
        \draw[thk] (485,1465) -- (485,1290) -- (608,1290) -- (608,1465);
        \draw (447,1465) -- (635,1465);
        \draw[fill=black!30] (525,1276) rectangle (570,1290);
        \draw (520,1290) -- (570,1290) -- (578,1330) -- (565,1347) -- (545,1330) -- (525,1347) -- (515,1330) -- cycle;
        \draw[thk] (510,1365) -- (580,1365) -- (590,1385) -- (590,1395) -- (503,1395) -- (503,1385) -- cycle;
        \draw (512,1395) rectangle (578,1425);
        \draw (512,1425) -- (512,1465) (530,1425) -- (530,1465) (560,1425) -- (560,1465) (578,1425) -- (578,1465);
      \end{scope}}
    \node[lbl] (lbBunA) at (540,1503) {鉄分搬出バンカ};
    \node[lbl] (lbBunB) at (768,1503) {異物搬出バンカ};
  \end{scope}

  % kiln gas treatment
  \begin{scope}[crop={560}{940}{3}{3}]
    \draw (200,308) -- (250,308) (205,308) -- (205,320) (245,308) -- (245,320);
    \draw (183,352) -- (205,320) -- (245,320) -- (262,352) -- (262,548) -- (245,605) -- (205,605) -- (183,548) -- cycle (183,548) -- (262,548);
    \draw[thk] (185,378) -- (258,378);
    \draw[thk] (205,392) -- (218,392) (235,392) -- (248,392);
    \draw[thk] (178,360) -- (178,380);
    \coordinate (s3) at (75,245);
    \draw[flow] (s3) |- (178,372);
    \node[lbl] (lbS3k) at (72,228) {※3};
    \node[lbw,fill=white,inner sep=1pt] (lbClK) at (215,478) {ガス冷却室};
    \draw (80,607) rectangle (322,622) ;
    \draw[thk] (92,614.5) -- (310,614.5);
    \draw (85,622) rectangle (92,650);
    \node[lbw] (lbClC) at (355,675) {ガス冷却室ダスト\\排出コンベヤ};
    \draw[rounded corners=10pt] (300,600) -- (300,315) -- (455,315);
    \draw[rounded corners=6pt] (315,600) -- (315,325) -- (455,325);
    \draw (443,305) -- (455,320) -- (443,335);
    \draw[flow] (378,190) -- (378,313);
    \node[lbl] (lbS4k) at (378,170) {※4};
    \node[lbl] (lbBfK) at (500,250) {バグフィルター};
    \draw (465,295) rectangle (575,465) (465,415) -- (575,415);
    \draw (465,415) -- (495,450) -- (520,415) -- (545,450) -- (575,415);
    \draw[thk] (465,452) -- (575,452);
    \draw (455,312) rectangle (463,326) (575,312) rectangle (583,326);
    \draw (555,465) rectangle (570,475);
    \gvv{562,487}
    \draw[-{Latex[length=3pt,width=2.4pt]}] (562,497) -- (562,728);
    \draw (540,730) -- (583,730) -- (583,775) -- (570,800) -- (552,800) -- (540,775) -- cycle;
    \draw[fill=black!40] (540,805) rectangle (583,818);
    \node[rectangle,draw,line width=.8pt,inner sep=0pt,minimum width=31.5pt,minimum height=6.5pt,lbl] (boxPit) at (312,810) {不燃物ピットへ};
    \draw[flow] (540,812) -- (boxPit);
    \coordinate (airK) at (695,812);
    \draw[flow] (airK) -- (583,812);
    \node[lbl] (lbAirK) at (762,815) {圧縮空気};
    % reheat duct
    \draw (583,318) [rounded corners=3pt] -- (608,318) [rounded corners=8pt] -- (608,142) -- (968,142) -- (968,615);
    \draw (583,328) [rounded corners=3pt] -- (620,328) [rounded corners=5pt] -- (620,155) -- (955,155) -- (955,615);
    \draw (770,155) -- (770,212) (780,155) -- (780,212) (770,240) -- (770,278) (780,240) -- (780,278);
    \zdm{775,226}
    \draw (738,365) -- (738,292) -- (760,278) -- (795,278) -- (815,295) -- (815,365);
    \draw (800,312) -- (748,330) -- (800,357) -- (748,357);
    \draw (815,312) -- (845,312) -- (845,110);
    \draw (815,357) -- (888,357) -- (888,110);
    \orfv{888,292}
    \gvv{888,220}
    \node[ctl] (cvP) at (920,222) {CV};
    \node[lbl] (lbDeaR) at (793,83) {脱気器へ};
    \node[lbl] (lbStmR) at (978,83) {高圧蒸気だめより};
    \node[lbl] (lbRhK) at (662,332) {排ガス\\再加熱器};
    \draw (728,365) rectangle (822,642);
    \draw (735,365) -- (735,642) (815,365) -- (815,642);
    \draw[thk] (728,428) -- (822,428) (728,495) -- (822,495);
    \draw (728,562) -- (822,562);
    \node[lbl] (lbCtK) at (780,462) {触媒塔};
    \draw (735,642) -- (735,700) -- (750,738) -- (838,738) (812,642) -- (812,655) -- (838,655) (838,650) -- (838,745);
    \draw (905,690) -- (848,690) -- (848,705) -- (905,705);
    \draw[line width=.9pt] (905,678) -- (905,718) (905,678) -- (928,718) -- (928,678);
    \draw (930,708) -- (1062,708) (945,640) -- (945,690) -- (930,690) (968,640) -- (968,690) -- (1062,690);
    \zdm{957,628}
    \draw[line width=.9pt] (1062,680) -- (1062,718) (1062,680) -- (1085,718) -- (1085,680);
    \node[rectangle,draw,lbl,inner sep=2pt] (boxFP) at (1076,605) {炉圧調整器};
    \draw (boxFP) -- (1075,690);
    \draw[fill=black!45] (1087,690) -- (1125,690) -- (1125,680) -- (1147,700) -- (1125,720) -- (1125,708) -- (1087,708) -- cycle;
    \node[pmp,minimum size=10.5pt] (fanG) at (1180,702) {F};
    \fanb{fanG}
    \draw (1190,655) -- (1215,655) -- (1215,685);
    \node[lbl] (lbFanG) at (1195,783) {誘引通風機};
    \draw[rounded corners=14pt] (1190,655) -- (1190,405) -- (1300,405);
    \draw[rounded corners=10pt] (1205,655) -- (1205,420) -- (1300,420);
    \draw[dashed] (1300,405) -- (1315,405) (1300,420) -- (1315,420);
    \draw (1318,395) -- (1335,412) -- (1318,430);
    \node[lbl] (lbS2k) at (1370,412) {＊2};
  \end{scope}

  % boiler and dust conveyors
  \begin{scope}[crop={1060}{540}{3}{3}]
    \draw[line width=.9pt] (490,97) -- (490,400) (500,97) -- (500,390);
    \draw (497,88) -- (760,88);
    \draw[fill=white] (490,97) circle[radius=1.7pt];
    \draw[fill=white] (483,382) rectangle (505,400);
    \draw (510,128) -- (510,408) (490,408) -- (790,408) -- (790,120);
    \draw[thk] (518,130) -- (790,130);
    \draw (710,128) -- (760,72) -- (805,72) -- (805,97) -- (790,120);
    \draw[thk] (630,135) -- (630,395) (712,135) -- (712,405);
    \node[lbl] (lbBoil) at (572,290) {ボイラー};
    \draw (805,80) -- (925,80) (960,80) -- (1015,80) (1047,80) -- (1090,80) -- (1090,175);
    \draw (805,97) -- (925,97) (960,97) -- (1015,97) (1047,97) -- (1072,97) -- (1072,175);
    \draw (1060,175) -- (1072,175) (1090,175) -- (1102,175) (1060,175) -- (1081,192) -- (1102,175);
    \draw (932,-130) -- (932,60) .. controls (965,70) and (965,105) .. (932,115);
    \draw[flow] (932,115) -- (932,285) -- (1012,285);
    \draw (1020,-130) -- (1020,65) .. controls (1050,72) and (1050,105) .. (1020,115) -- (1020,240);
    \draw[flow] (857,-45) -- (857,78);
    \node[lbl] (lbS1b) at (857,-60) {※1};
    % gas cooler
    \draw (1050,195) -- (1115,195) (1060,195) -- (1060,212) (1105,195) -- (1105,212);
    \draw (1025,255) -- (1060,212) -- (1105,212) -- (1138,255) -- (1138,475) -- (1108,552) -- (1060,552) -- (1025,475) -- cycle (1025,475) -- (1138,475);
    \draw[thk] (1025,272) -- (1130,272);
    \draw[line width=.9pt] (1014,245) -- (1014,300);
    \foreach \xx in {1063,1110} {\draw (\xx-14,318) -- (\xx-6,305) (\xx,318) -- (\xx,305) (\xx+14,318) -- (\xx+6,305);}
    \node[lbw] (lbClA) at (1075,368) {ガス冷却室};
    % exhaust duct
    \draw[line width=1.2pt] (20,60) -- (20,100) -- (105,100) -- (430,450) -- (525,450) -- (525,410);
    \draw[line width=1.2pt] (15,340) -- (15,232) -- (62,228) -- (440,608) -- (440,640);
    \draw[flow] (400,0) -- (400,220) -- (285,282);
    \zdm{400,172}
    \node[ctl] (cvQ) at (432,175) {CV};
    \node[lbl,fill=white,inner sep=1pt] (lbAbA) at (192,290) {後燃焼室};
    % ducts to second conveyor
    \draw[line width=1pt] (630,408) -- (630,540) -- (595,600) -- (595,640);
    \draw (485,640) -- (485,610) -- (517,555) -- (555,610) -- (555,640);
    \draw (495,640) -- (495,618) -- (517,570);
    \draw[thk] (440,642) rectangle (485,655) (552,642) rectangle (598,655);
    \draw (443,655) -- (443,795) (478,655) -- (478,795) (555,655) -- (555,795) (592,655) -- (592,795);
    \draw[thk] (435,757) -- (485,757) (550,757) -- (600,757) (695,757) -- (735,757);
    \draw (640,408) -- (700,540) -- (730,540) -- (785,408);
    \draw[thk] (700,540) rectangle (730,550);
    \draw (705,550) -- (705,795) (725,550) -- (725,795);
    \node[lbl] (lbBrD) at (812,545) {ボイラダスト\\排出装置};
    \node[font=\cjk\bfseries\fontsize{3.4}{6.5}\selectfont,align=center,inner sep=0pt] (lbAbD) at (375,638) {後燃焼室ダスト\\排出装置};
    % second dust conveyor
    \draw (188,655) -- (308,655) -- (378,775) -- (910,775) -- (955,735) -- (990,765) -- (925,825) -- (895,855) -- (345,855) -- (270,720) -- (265,732) -- (188,732) -- cycle;
    \draw[thk] (320,798) -- (945,798);
    \draw (228,695) circle[radius=3.3pt] (948,770) circle[radius=1.7pt];
    \wmk{450,812}
    \draw[flow] (228,735) -- (228,850);
    \cont{200,890}
    \node[lbl] (lbCntZ) at (352,968) {残渣コンテナ};
    \node[lbl] (lbCnv2) at (590,903) {第2ダスト搬送コンベヤ};
    % first dust conveyor
    \draw (835,605) -- (888,605) -- (915,645) -- (1065,645) -- (1105,610) -- (1130,628) -- (1060,692) -- (905,692) -- (870,635) -- (835,635) -- cycle;
    \draw (880,658) -- (1085,658);
    \draw (850,620) circle[radius=1pt] (1107,628) circle[radius=1.2pt];
    \wmk{995,668}
    \draw (1030,575) -- (1030,655) (1048,575) -- (1048,655);
    \draw[thk] (1025,637) -- (1053,637);
    \drp[1.2pt]{850}{640}{770}
    \node[lbl] (lbCnv1) at (1155,714) {第1ダスト搬送コンベヤ};
    \node[pmp] (pmpE) at (1038,828) {P};
    \coordinate (pmpIn) at (925,828);
    \draw (pmpIn) -- (pmpE);
    \draw (pmpE) -- (1478,828);
    \node[lbl] (lbPmE) at (1050,895) {引抜ポンプ};
  \end{scope}

  % main gas train, bag filter, silo
  \begin{scope}[crop={1240}{480}{1.864}{3}]
    \draw (300,735) rectangle (425,760);
    \belt[1.4pt]{312,747}{415,747}
    \node[lbl] (lbClD) at (495,765) {ガス冷却室ダスト\\排出コンベヤ};
    \draw (407,720) -- (407,180) -- (670,180);
    \draw (420,720) -- (420,203) -- (670,203);
    \draw (407,720) -- (420,720);
    \draw (665,170) -- (682,190) -- (665,210);
    \draw[flow] (555,0) -- (555,178);
    \node[lbl] (lbBfT) at (750,100) {バグフィルター};
    \draw (683,145) rectangle (797,430) (683,345) -- (797,345);
    \node[lbl] (lbBfM) at (740,248) {バグフィルター};
    \draw (683,345) -- (712,395) -- (737,345) -- (765,395) -- (797,345) (737,345) -- (737,405);
    \draw[line width=1.2pt] (683,400) -- (797,400);
    \draw (775,430) -- (775,448) (790,430) -- (790,448);
    \gvv{782,465}
    \draw[-{Latex[length=3pt,width=2.4pt]}] (782,480) -- (782,672);
    \draw (768,675) -- (795,675) -- (795,720) -- (787,748) -- (775,748) -- (768,720) -- cycle;
    \draw[fill=black!40] (768,750) rectangle (795,762);
    \coordinate (airM) at (695,755);
    \draw[flow] (airM) -- (768,755);
    \node[lbl] (lbAirM) at (685,732) {圧縮空気};
    \node[lbl] (lbTrn) at (873,728) {捕集灰空気輸送装置};
    \draw[flow] (795,755) -- (875,755) -- (875,880);
    % silo
    \draw (787,812) rectangle (825,892);
    \draw (865,878) -- (885,878) (875,878) -- (875,892);
    \draw (778,892) -- (885,892) -- (885,1135) -- (860,1285) -- (805,1285) -- (778,1135) -- cycle (778,1135) -- (885,1135);
    \node[lbl] (lbSlo) at (832,1015) {溶融飛灰貯留槽};
    \draw[thk] (805,1290) -- (860,1290) (805,1302) -- (860,1302);
    \draw (860,1296) -- (880,1296);
    \fill (880,1296) circle[radius=1.2pt];
    \draw[thk,fill=black!50] (802,1312) rectangle (860,1335);
    \draw (802,1335) rectangle (815,1360) (822,1335) rectangle (836,1355);
    \draw[flow] (807,1360) -- (807,1450);
  \end{scope}

  % reheater and stack
  \begin{scope}[crop={1640}{340}{3}{3}]
    \draw (88,598) rectangle (95,630);
    \draw (95,625) [rounded corners=6pt] -- (140,625) [rounded corners=4pt] -- (140,172) -- (340,172) -- (340,195);
    \draw (95,600) [rounded corners=3.5pt] -- (118,600) [rounded corners=9pt] -- (118,150) -- (370,150);
    \draw[rounded corners=10pt] (400,150) -- (565,150) -- (565,705);
    \draw[rounded corners=6pt] (400,172) -- (540,172) -- (540,705);
    \draw[line width=.9pt] (370,140) -- (372,180) -- (385,145) -- (397,182) -- (397,140);
    \draw (340,195) -- (340,205) (365,172) -- (365,205);
    \zdm{352,215}
    \draw (335,232) -- (370,232) -- (352,258) -- cycle;
    \draw (300,365) -- (300,290) -- (330,260) -- (375,260) -- (402,290) -- (402,365);
    \draw (380,305) -- (325,325) -- (380,345) -- (325,347);
    \draw (402,303) -- (422,303) -- (422,120) (402,347) -- (468,347) -- (468,120);
    \orfv{468,285}
    \gvv{468,212}
    \node[ctl] (cvR) at (503,212) {CV};
    \node[lbl] (lbDeaM) at (370,92) {脱気器へ};
    \node[lbl] (lbStmM) at (555,90) {高圧蒸気だめより};
    \node[lbl] (lbRhM) at (235,322) {排ガス\\再加熱器};
    \draw (288,367) rectangle (412,748) (300,367) -- (300,748) (402,367) -- (402,748);
    \draw (288,445) -- (412,445) (288,625) -- (412,625);
    \draw[thk] (288,543) -- (412,543) (288,550) -- (412,550);
    \node[lbl] (lbCtM) at (350,478) {触媒塔};
    \draw (298,748) -- (298,780) -- (320,820) -- (430,820) (402,748) -- (402,765) -- (430,765) (430,755) -- (430,830);
    \draw (495,780) -- (440,780) -- (440,803) -- (495,803);
    \draw[line width=.9pt] (497,770) -- (497,815) (497,770) -- (518,815) -- (518,770);
    \draw (520,780) -- (540,780) -- (540,735) (520,803) -- (652,803) (565,735) -- (565,780) -- (652,780);
    \zdm{552,720}
    \draw[line width=.9pt] (652,770) -- (652,815) (652,770) -- (678,815) -- (678,770);
    \node[rectangle,draw,lbl,inner sep=2pt] (boxFM) at (669,697) {炉圧調整器};
    \draw (boxFM) -- (667,785);
    \draw (680,778) -- (718,778) -- (718,770) -- (745,792) -- (718,815) -- (718,808) -- (680,808) -- cycle;
    \node[pmp] (fanM) at (775,795) {F};
    \fanb{fanM}
    \draw (785,745) -- (808,745) -- (808,780);
    \node[lbl] (lbFanM) at (790,878) {誘引通風機};
    \draw[rounded corners=12pt] (785,745) -- (785,497) -- (1160,497);
    \draw[rounded corners=6pt] (807,745) -- (807,518) -- (1160,518);
    \draw (1160,487) -- (1180,507) -- (1160,527) (1160,487) -- (1160,497) (1160,518) -- (1160,527);
    \draw[thk] (1187,90) -- (1235,90) -- (1228,748) -- (1180,748) -- cycle;
    \node[lbl] (lbStk) at (1205,57) {煙突};
    \draw (1065,580) -- (1085,580) -- (1085,535) -- (1100,535) -- (1075,518) -- (1055,535) -- (1065,535) -- cycle;
    \node[lbl] (lbS2m) at (1075,607) {＊2};
  \end{scope}

  % slurry
  \begin{scope}[crop={1180}{960}{1.74}{3}]
    \draw (738,32) rectangle (998,75);
    \foreach \i in {0,...,8} {\draw (738+\i*28.9,75) -- (738+\i*28.9+14.4,32) -- (738+\i*28.9+28.9,75);}
    \node[lbl] (lbScw) at (963,110) {溶融飛灰篩分コンベヤ};
    \draw[flow] (750,75) -- (750,162);
    \draw (745,162) rectangle (762,170);
    \draw (705,170) -- (777,170) -- (777,308) -- (750,375) -- (730,375) -- (705,308) -- cycle (705,308) -- (777,308);
    \draw[thk] (697,285) -- (697,320) (783,285) -- (783,320);
    \node[lbl] (lbWgh) at (745,252) {計量槽};
    \draw[thk] (725,378) -- (755,378);
    \draw (755,385) -- (775,385) (730,395) rectangle (750,405);
    \draw (738,405) -- (738,482);
    \draw (680,483) rectangle (750,623) (680,522) -- (750,522);
    \wmk{712,530}
    \agit{693,450}{710,575}
    \node[lbl] (lbDsl) at (818,602) {溶融飛灰溶解槽};
    \draw[dashed] (668,500) -- (668,665);
    \draw[thk] (555,665) -- (675,665);
    \draw (555,665) rectangle (675,808) (555,703) -- (675,703) (570,665) -- (570,703);
    \wmk{590,712}
    \agit{590,630}{605,757}
    \draw (648,-432) -- (648,665);
    \fill (648,658) -- +(-1pt,0pt) -- +(0pt,-5pt) -- +(1pt,0pt) -- cycle;
    \node[lbl] (lbSlr) at (635,848) {スラリー化飛灰貯留槽};
    \node[pmp] (pmpF) at (515,780) {P};
    \node[rectangle,draw,line width=.8pt,inner sep=0pt,minimum width=34pt,minimum height=23pt,lbl] (boxNao) at (113.5,731) {三菱マテリアル\\直島製錬所};
    \draw (pmpF) -- (555,780);
    \draw[flow] (pmpF) -- (boxNao.east |- pmpF);
    \gv{465,780}
    \gv{415,780}
    \draw (440,780) -- (440,625) -- (570,625) -- (570,665);
    \gvv{440,735}
    \node[lbl,fill=white,inner sep=.5pt] (lbPmF) at (500,712) {スラリー化飛灰\\輸送ポンプ};
    \node[font=\cjk\fontsize{13.2}{15}\selectfont,inner sep=0pt] (ttlA) at (995,1278) {中間処理施設における処理対象物フローシート};
    \node[font=\cjk\fontsize{13.2}{15}\selectfont,inner sep=0pt] (ttlB) at (1388,1412) {（その2）};
  \end{scope}
\end{tikzpicture}
\end{document}
